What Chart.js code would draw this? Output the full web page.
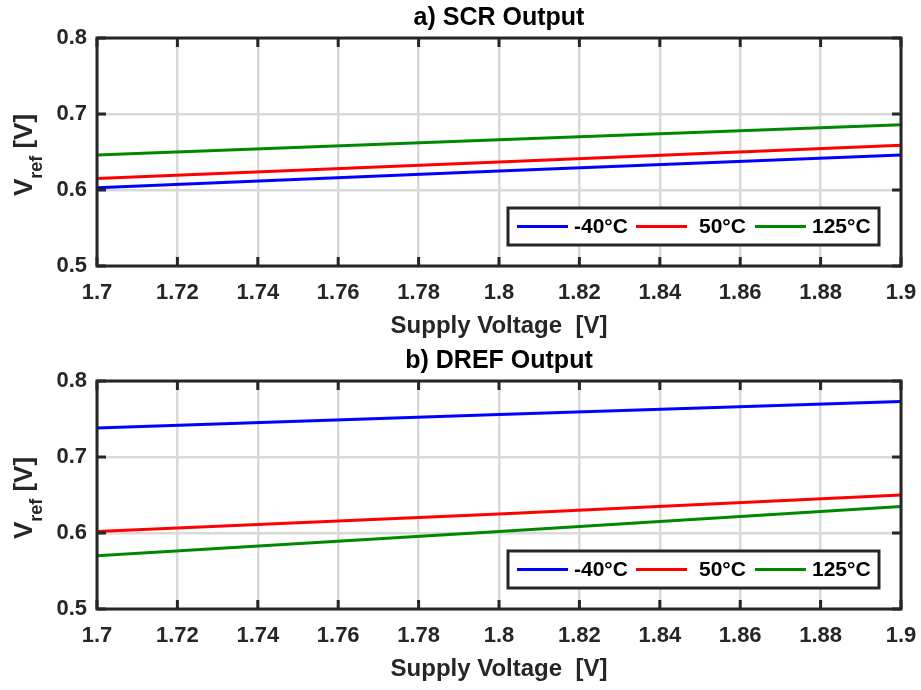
<!DOCTYPE html>
<html>
<head>
<meta charset="utf-8">
<script src="https://cdn.jsdelivr.net/npm/chart.js@4/dist/chart.umd.min.js"></script>
<style>
  html, body { margin: 0; padding: 0; background: #ffffff; }
  body { width: 921px; height: 690px; position: relative; overflow: hidden; }
  .panel { position: absolute; left: 0; width: 921px; height: 345px; }
  #p1 { top: 0; }
  #p2 { top: 343px; }
</style>
</head>
<body>
<div class="panel" id="p1"><canvas id="c1" width="921" height="345"></canvas></div>
<div class="panel" id="p2"><canvas id="c2" width="921" height="345"></canvas></div>
<script>
// ---------- data ----------
const supplyVoltage = [1.7, 1.8, 1.9];
const seriesLabels = ['-40°C', '50°C', '125°C'];
const seriesColors = ['#0000ff', '#ff0000', '#008800'];

// a) SCR Output
const scrMinus40 = [0.603, 0.625, 0.646];
const scr50      = [0.615, 0.637, 0.659];
const scr125     = [0.646, 0.666, 0.686];

// b) DREF Output
const drefMinus40 = [0.738, 0.756, 0.773];
const dref50      = [0.602, 0.625, 0.650];
const dref125     = [0.570, 0.602, 0.635];

const xTicks = [1.7, 1.72, 1.74, 1.76, 1.78, 1.8, 1.82, 1.84, 1.86, 1.88, 1.9];
const xTickLabels = ['1.7', '1.72', '1.74', '1.76', '1.78', '1.8', '1.82', '1.84', '1.86', '1.88', '1.9'];
const yTicks = [0.5, 0.6, 0.7, 0.8];
const yTickLabels = ['0.5', '0.6', '0.7', '0.8'];

const panelTitles = ['a) SCR Output', 'b) DREF Output'];
const xAxisTitle = 'Supply Voltage  [V]';

// ---------- styling ----------
const FONT = '"Liberation Sans", Arial, Helvetica, sans-serif';
const AXIS_COLOR = '#262626';
const LEGEND_TEXT_GAP = [57, 63, 57];

const decorPlugin = {
  id: 'decor',
  afterDraw(chart) {
    const ctx = chart.ctx;
    const a = chart.chartArea;
    const xs = chart.scales.x, ys = chart.scales.y;
    ctx.save();
    // frame
    ctx.strokeStyle = AXIS_COLOR;
    ctx.lineWidth = 3;
    ctx.strokeRect(a.left, a.top, a.right - a.left, a.bottom - a.top);
    // inner ticks
    const tl = 9;
    ctx.beginPath();
    xTicks.forEach(v => {
      const px = xs.getPixelForValue(v);
      ctx.moveTo(px, a.bottom); ctx.lineTo(px, a.bottom - tl);
      ctx.moveTo(px, a.top); ctx.lineTo(px, a.top + tl);
    });
    yTicks.forEach(v => {
      const py = ys.getPixelForValue(v);
      ctx.moveTo(a.left, py); ctx.lineTo(a.left + tl, py);
      ctx.moveTo(a.right, py); ctx.lineTo(a.right - tl, py);
    });
    ctx.stroke();

    // panel title
    const title = chart.options.plugins.decor.title;
    ctx.fillStyle = '#000000';
    ctx.font = 'bold 25px ' + FONT;
    ctx.textAlign = 'center';
    ctx.textBaseline = 'middle';
    ctx.fillText(title, (a.left + a.right) / 2, 18);

    // y axis title with subscript
    ctx.save();
    ctx.translate(32, (a.top + a.bottom) / 2 + 3);
    ctx.rotate(-Math.PI / 2);
    ctx.fillStyle = AXIS_COLOR;
    ctx.textAlign = 'left';
    ctx.textBaseline = 'alphabetic';
    const big = 'bold 26px ' + FONT, small = 'bold 18px ' + FONT;
    ctx.font = big; const wV = ctx.measureText('V').width; const wB = ctx.measureText(' [V]').width;
    ctx.font = small; const wS = ctx.measureText('ref').width;
    let x = -(wV + wS + wB) / 2;
    ctx.font = big; ctx.fillText('V', x, 0); x += wV;
    ctx.font = small; ctx.fillText('ref', x, 10); x += wS;
    ctx.font = big; ctx.fillText(' [V]', x, 0);
    ctx.restore();

    // legend box
    const bw = 371, bh = 37;
    const bx = a.right - 22 - bw, by = a.bottom - 21 - bh;
    ctx.fillStyle = '#ffffff';
    ctx.fillRect(bx, by, bw, bh);
    ctx.strokeStyle = AXIS_COLOR;
    ctx.lineWidth = 3;
    ctx.strokeRect(bx, by, bw, bh);
    ctx.font = 'bold 21px ' + FONT;
    ctx.textAlign = 'left';
    ctx.textBaseline = 'middle';
    const cy = by + bh / 2;
    chart.data.datasets.forEach((ds, i) => {
      const lx = bx + 9 + i * 119;
      ctx.strokeStyle = ds.borderColor;
      ctx.lineWidth = 3;
      ctx.beginPath();
      ctx.moveTo(lx, cy); ctx.lineTo(lx + 51, cy);
      ctx.stroke();
      ctx.fillStyle = '#000000';
      ctx.fillText(ds.label, lx + LEGEND_TEXT_GAP[i], cy + 1);
    });
    ctx.restore();
  }
};

function makeChart(canvasId, title, seriesList) {
  const datasets = seriesList.map((vals, i) => ({
    label: seriesLabels[i],
    data: supplyVoltage.map((xv, j) => ({ x: xv, y: vals[j] })),
    borderColor: seriesColors[i],
    backgroundColor: seriesColors[i],
    borderWidth: 3,
    pointRadius: 0,
    tension: 0,
    fill: false
  }));
  return new Chart(document.getElementById(canvasId), {
    type: 'line',
    data: { datasets },
    options: {
      responsive: false,
      animation: false,
      devicePixelRatio: 1,
      layout: { padding: { top: 38, right: 20, left: 0, bottom: 0 } },
      plugins: {
        legend: { display: false },
        tooltip: { enabled: false },
        decor: { title }
      },
      scales: {
        x: {
          type: 'linear',
          min: 1.7, max: 1.9,
          afterBuildTicks: s => { s.ticks = xTicks.map(v => ({ value: v })); },
          afterFit: s => { s.height = 79; s.paddingLeft = 0; s.paddingRight = 0; },
          grid: { color: '#d9d9d9', lineWidth: 2.5, drawTicks: false },
          border: { display: false },
          ticks: {
            padding: 14,
            color: AXIS_COLOR,
            font: { family: FONT, size: 22, weight: 'bold' },
            maxRotation: 0,
            autoSkip: false,
            callback: (v, i) => xTickLabels[i]
          },
          title: {
            display: true,
            text: xAxisTitle,
            color: AXIS_COLOR,
            font: { family: FONT, size: 24, weight: 'bold' },
            padding: { top: 0, bottom: 4 }
          }
        },
        y: {
          type: 'linear',
          min: 0.5, max: 0.8,
          afterBuildTicks: s => { s.ticks = yTicks.map(v => ({ value: v })); },
          afterFit: s => { s.width = 97; s.paddingTop = 0; s.paddingBottom = 0; },
          grid: { color: '#d9d9d9', lineWidth: 2.5, drawTicks: false },
          border: { display: false },
          ticks: {
            padding: 10,
            color: AXIS_COLOR,
            font: { family: FONT, size: 22, weight: 'bold' },
            callback: (v, i) => yTickLabels[i]
          }
        }
      }
    },
    plugins: [decorPlugin]
  });
}

makeChart('c1', panelTitles[0], [scrMinus40, scr50, scr125]);
makeChart('c2', panelTitles[1], [drefMinus40, dref50, dref125]);
</script>
</body>
</html>
